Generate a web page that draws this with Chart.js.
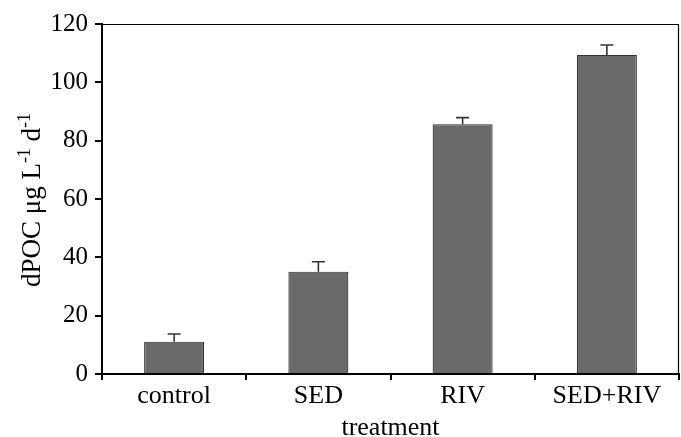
<!DOCTYPE html>
<html><head><meta charset="utf-8">
<script src="https://cdn.jsdelivr.net/npm/chart.js@4/dist/chart.umd.min.js"></script>
<style>html,body{margin:0;padding:0;background:#fff;}canvas{display:block;}</style>
</head><body>
<canvas id="c" width="681" height="437"></canvas>
<script>
const categories = ['control', 'SED', 'RIV', 'SED+RIV'];
const values = [11.1, 35.1, 85.6, 109.4];
const errors = [2.6, 3.4, 2.3, 3.4];
const yTicks = [0, 20, 40, 60, 80, 100, 120];
const xTitle = 'treatment';
const yTitleParts = [['dPOC μg L', false], ['-1', true], [' d', false], ['-1', true]];

const FONT = '"Liberation Serif", "Times New Roman", serif';

const extras = {
  id: 'extras',
  afterDatasetsDraw(chart) {
    const ctx = chart.ctx;
    const xs = chart.scales.x, ys = chart.scales.y;
    const meta = chart.getDatasetMeta(0);
    ctx.save();
    // error bars
    ctx.strokeStyle = '#333';
    ctx.lineWidth = 1.6;
    meta.data.forEach((bar, i) => {
      const x = bar.x;
      const y0 = ys.getPixelForValue(values[i]);
      const y1 = ys.getPixelForValue(values[i] + errors[i]);
      ctx.beginPath();
      ctx.moveTo(x, y0); ctx.lineTo(x, y1);
      ctx.moveTo(x - 6.5, y1); ctx.lineTo(x + 6.5, y1);
      ctx.stroke();
    });
    // top and right frame
    const a = chart.chartArea;
    ctx.strokeStyle = '#000';
    ctx.lineWidth = 1.2;
    ctx.beginPath();
    ctx.moveTo(a.left, a.top + 0.5);
    ctx.lineTo(a.right - 0.5, a.top + 0.5);
    ctx.lineTo(a.right - 0.5, a.bottom);
    ctx.stroke();
    // x title
    ctx.fillStyle = '#000';
    ctx.font = '26px ' + FONT;
    ctx.textAlign = 'center';
    ctx.textBaseline = 'alphabetic';
    ctx.fillText(xTitle, (a.left + a.right) / 2, 435);
    // y title with superscripts
    ctx.translate(31, 200);
    ctx.rotate(-Math.PI / 2);
    const mainFont = '27px ' + FONT, supFont = '18px ' + FONT;
    let total = 0;
    yTitleParts.forEach(([t, sup]) => { ctx.font = sup ? supFont : mainFont; total += ctx.measureText(t).width; });
    let cx = -total / 2;
    ctx.textAlign = 'left';
    ctx.textBaseline = 'alphabetic';
    yTitleParts.forEach(([t, sup]) => {
      ctx.font = sup ? supFont : mainFont;
      ctx.fillText(t, cx, sup ? -1 : 9);
      cx += ctx.measureText(t).width;
    });
    ctx.restore();
  }
};

new Chart(document.getElementById('c'), {
  type: 'bar',
  data: {
    labels: categories,
    datasets: [{
      data: values,
      backgroundColor: '#6a6a6a',
      borderColor: '#333',
      borderWidth: 1.2,
      categoryPercentage: 1,
      barPercentage: 0.416
    }]
  },
  options: {
    responsive: false,
    animation: false,
    events: [],
    layout: { padding: { left: 0, right: 2, top: 24, bottom: 0 } },
    plugins: { legend: { display: false }, tooltip: { enabled: false } },
    scales: {
      x: {
        offset: true,
        grid: { offset: true, drawOnChartArea: false, drawTicks: true, tickLength: 6, color: '#000', lineWidth: 2 },
        border: { display: true, color: '#000', width: 2 },
        ticks: { color: '#000', font: { family: FONT, size: 26 }, padding: 1, maxRotation: 0 },
        afterFit(s) { s.height = 63; }
      },
      y: {
        min: 0, max: 120,
        afterBuildTicks(s) { s.ticks = yTicks.map(v => ({ value: v })); },
        grid: { drawOnChartArea: false, drawTicks: true, tickLength: 7, color: '#000', lineWidth: 2 },
        border: { display: true, color: '#000', width: 2 },
        ticks: { color: '#000', font: { family: FONT, size: 25 }, padding: 7 },
        afterFit(s) { s.width = 102; }
      }
    }
  },
  plugins: [extras]
});
</script>
</body></html>
